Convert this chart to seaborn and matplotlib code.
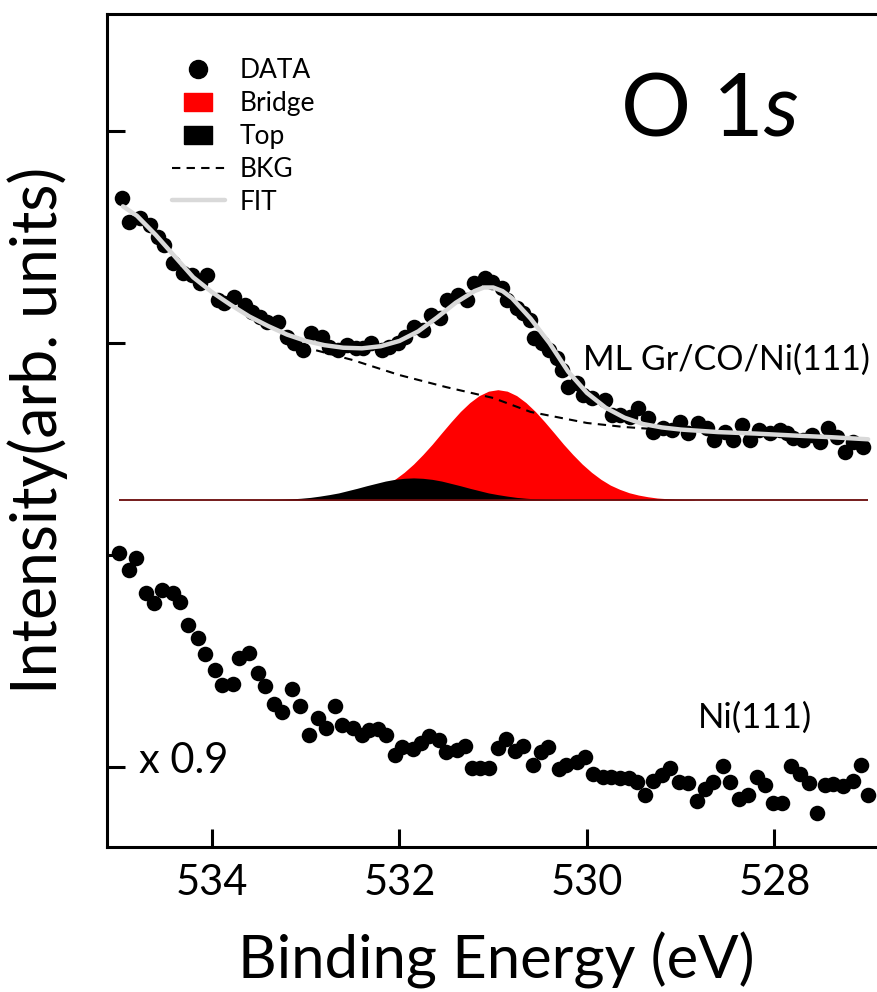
import numpy as np
import seaborn as sns
import matplotlib.pyplot as plt
from matplotlib.lines import Line2D
from matplotlib.path import Path

# %% data (binding energy in eV, intensity in arb. units)

gr_energy = [534.96, 534.88, 534.77, 534.66, 534.58, 534.51, 534.42, 534.31, 534.21, 534.13,
             534.05, 533.94, 533.87, 533.76, 533.65, 533.57, 533.49, 533.41, 533.30, 533.20,
             533.12, 533.03, 532.94, 532.83, 532.75, 532.66, 532.56, 532.46, 532.39, 532.30,
             532.19, 532.11, 532.02, 531.94, 531.84, 531.75, 531.66, 531.57, 531.49, 531.38,
             531.28, 531.20, 531.09, 531.01, 530.91, 530.85, 530.75, 530.68, 530.61, 530.56,
             530.48, 530.40, 530.32, 530.27, 530.20, 530.11, 530.04, 529.95, 529.81, 529.73,
             529.65, 529.54, 529.46, 529.35, 529.30, 529.19, 529.09, 529.01, 528.92, 528.82,
             528.72, 528.64, 528.53, 528.44, 528.35, 528.26, 528.16, 528.05, 527.94, 527.87,
             527.80, 527.70, 527.60, 527.51, 527.43, 527.33, 527.25, 527.16, 527.06]
gr_intensity = [2.683, 2.572, 2.590, 2.557, 2.500, 2.462, 2.377, 2.330, 2.321, 2.283,
                2.321, 2.203, 2.189, 2.217, 2.179, 2.146, 2.123, 2.099, 2.099, 2.028,
                2.000, 1.967, 2.047, 2.028, 1.981, 1.967, 1.991, 1.976, 1.976, 2.000,
                1.967, 1.981, 2.000, 2.028, 2.075, 2.061, 2.132, 2.118, 2.203, 2.226,
                2.203, 2.283, 2.307, 2.288, 2.259, 2.203, 2.165, 2.142, 2.108, 2.024,
                2.000, 1.967, 1.929, 1.873, 1.792, 1.811, 1.755, 1.741, 1.731, 1.660,
                1.660, 1.651, 1.693, 1.646, 1.580, 1.599, 1.590, 1.627, 1.575, 1.623,
                1.599, 1.542, 1.580, 1.542, 1.613, 1.542, 1.590, 1.575, 1.590, 1.575,
                1.552, 1.542, 1.566, 1.533, 1.599, 1.557, 1.486, 1.533, 1.509]

ni_energy = [534.99, 534.89, 534.81, 534.70, 534.62, 534.53, 534.42, 534.34, 534.26, 534.15, 534.07,
             533.97, 533.89, 533.78, 533.71, 533.61, 533.51, 533.43, 533.34, 533.25, 533.15, 533.06,
             532.97, 532.87, 532.78, 532.69, 532.61, 532.50, 532.40, 532.33, 532.23, 532.14, 532.05,
             531.97, 531.86, 531.77, 531.68, 531.58, 531.50, 531.39, 531.30, 531.23, 531.14, 531.05,
             530.95, 530.86, 530.77, 530.68, 530.58, 530.49, 530.41, 530.30, 530.22, 530.11, 530.02,
             529.93, 529.83, 529.74, 529.65, 529.55, 529.47, 529.38, 529.30, 529.20, 529.11, 529.02,
             528.92, 528.83, 528.74, 528.66, 528.55, 528.47, 528.38, 528.28, 528.19, 528.10, 528.02,
             527.92, 527.82, 527.73, 527.63, 527.55, 527.46, 527.37, 527.27, 527.16, 527.08, 527.00]
ni_intensity = [1.009, 0.929, 0.986, 0.821, 0.774, 0.835, 0.821, 0.778, 0.670, 0.608, 0.533,
                0.458, 0.387, 0.392, 0.514, 0.538, 0.443, 0.382, 0.297, 0.259, 0.368, 0.288,
                0.151, 0.231, 0.184, 0.288, 0.198, 0.184, 0.151, 0.175, 0.179, 0.151, 0.057,
                0.094, 0.085, 0.113, 0.146, 0.127, 0.071, 0.080, 0.099, -0.005, -0.005, -0.005,
                0.090, 0.132, 0.075, 0.099, 0.009, 0.071, 0.094, -0.009, 0.009, 0.024, 0.047,
                -0.033, -0.047, -0.047, -0.052, -0.052, -0.071, -0.132, -0.066, -0.038, -0.005, -0.071,
                -0.075, -0.160, -0.104, -0.071, 0.005, -0.071, -0.151, -0.132, -0.047, -0.085, -0.170,
                -0.170, 0.005, -0.033, -0.075, -0.217, -0.085, -0.080, -0.090, -0.066, 0.009, -0.132]

fit_energy = [534.95, 534.8, 534.6, 534.4, 534.2, 534.0, 533.8, 533.6, 533.4, 533.2, 533.0,
              532.8, 532.6, 532.4, 532.2, 532.0, 531.8, 531.6, 531.4, 531.2, 531.1, 531.0,
              530.9, 530.8, 530.6, 530.4, 530.2, 530.0, 529.8, 529.6, 529.4, 529.2, 529.0,
              528.6, 528.2, 527.8, 527.4, 527.0]
fit_intensity = [2.645, 2.60, 2.51, 2.41, 2.31, 2.24, 2.18, 2.125, 2.08, 2.04, 2.01,
                 1.99, 1.978, 1.975, 1.985, 2.01, 2.055, 2.12, 2.19, 2.245, 2.262, 2.262,
                 2.245, 2.212, 2.115, 2.000, 1.865, 1.765, 1.695, 1.648, 1.618, 1.602, 1.592,
                 1.580, 1.573, 1.564, 1.556, 1.546]

bkg_energy = [532.9, 532.5, 532.0, 531.5, 531.0, 530.6, 530.0, 529.6, 529.0, 528.3, 527.5, 527.0]
bkg_intensity = [1.967, 1.920, 1.849, 1.792, 1.741, 1.675, 1.623, 1.604, 1.585, 1.571, 1.557, 1.547]

comp_energy = [533.85, 533.75, 533.65, 533.55, 533.45, 533.35, 533.25, 533.15, 533.05, 532.95,
               532.85, 532.75, 532.65, 532.55, 532.45, 532.35, 532.25, 532.15, 532.05, 531.95,
               531.85, 531.75, 531.65, 531.55, 531.45, 531.35, 531.25, 531.15, 531.05, 530.95,
               530.85, 530.75, 530.65, 530.55, 530.45, 530.35, 530.25, 530.15, 530.05, 529.95,
               529.85, 529.75, 529.65, 529.55, 529.45, 529.35, 529.25, 529.15, 529.05, 528.95,
               528.85]
bridge = [0.000, 0.000, 0.000, 0.000, 0.000, 0.000, 0.000, 0.001, 0.001, 0.002,
          0.003, 0.006, 0.009, 0.015, 0.023, 0.034, 0.050, 0.070, 0.097, 0.130,
          0.169, 0.214, 0.263, 0.316, 0.368, 0.417, 0.459, 0.492, 0.513, 0.520,
          0.513, 0.492, 0.459, 0.417, 0.368, 0.316, 0.263, 0.214, 0.169, 0.130,
          0.097, 0.070, 0.050, 0.034, 0.023, 0.015, 0.009, 0.006, 0.003, 0.002,
          0.001]
top = [0.000, 0.000, 0.000, 0.001, 0.001, 0.002, 0.003, 0.005, 0.008, 0.012,
       0.018, 0.025, 0.033, 0.044, 0.055, 0.067, 0.078, 0.089, 0.097, 0.102,
       0.104, 0.102, 0.097, 0.089, 0.078, 0.067, 0.055, 0.044, 0.033, 0.025,
       0.018, 0.012, 0.008, 0.005, 0.003, 0.002, 0.001, 0.001, 0.000, 0.000,
       0.000, 0.000, 0.000, 0.000, 0.000, 0.000, 0.000, 0.000, 0.000, 0.000,
       0.000]
comp_offset = 1.26

x_ticks = [534, 532, 530, 528]
y_ticks = [0, 1, 2, 3]

# %% style

sns.set_style("ticks")
plt.rcParams['font.family'] = ['Lato', 'DejaVu Sans']
plt.rcParams['mathtext.fontset'] = 'custom'
plt.rcParams['mathtext.rm'] = 'Lato'
plt.rcParams['mathtext.it'] = 'Lato:italic'
for key in ['text.color', 'axes.labelcolor', 'xtick.color', 'ytick.color', 'axes.edgecolor']:
    plt.rcParams[key] = 'black'

fig = plt.figure(figsize=(8.78, 9.92), dpi=100)
ax = fig.add_axes([107/878, 145/992, 778/878, 833/992])

# %% components

base = np.full(len(comp_energy), comp_offset)
ax.fill_between(comp_energy, base, base + np.array(bridge), color="#ff0000", lw=0, zorder=1)
ax.fill_between(comp_energy, base, base + np.array(top), color="black", lw=0, zorder=1.1)
ax.hlines(comp_offset, min(ni_energy), max(ni_energy), color="#6a0a0a", lw=1.3, zorder=1.2)

sns.lineplot(x=bkg_energy, y=bkg_intensity, color="black", lw=1.5,
             linestyle=(0, (4, 3)), ax=ax, zorder=2)

sns.scatterplot(x=gr_energy, y=gr_intensity, color="black", s=125, linewidth=0, ax=ax, zorder=3)
sns.scatterplot(x=ni_energy, y=ni_intensity, color="black", s=125, linewidth=0, ax=ax, zorder=3)

sns.lineplot(x=fit_energy, y=fit_intensity, color="#d9d9d9", lw=3.2, ax=ax, zorder=4)

# %% axes

ax.set_xlim(535.12, 526.82)
ax.set_ylim(-0.377, 3.552)
ax.set_xticks(x_ticks)
ax.set_xticklabels([str(t) for t in x_ticks])
ax.set_yticks(y_ticks)
ax.set_yticklabels([])
ax.tick_params(direction='in', length=13, width=2.2, labelsize=30, pad=12,
               top=False, right=False)
for side in ['left', 'bottom', 'top']:
    ax.spines[side].set_linewidth(2.2)
ax.spines['right'].set_visible(False)

ax.set_xlabel("Binding Energy (eV)", fontsize=43, labelpad=22)
ax.set_ylabel("Intensity(arb. units)", fontsize=45, labelpad=16)

# %% labels

fig.text(620/878, 1 - 135/992, r"O 1$\mathit{s}$", fontsize=63, ha='left', va='baseline')
fig.text(583/878, 1 - 370/992, "ML Gr/CO/Ni(111)", fontsize=24.5, ha='left', va='baseline')
fig.text(698/878, 1 - 728/992, "Ni(111)", fontsize=25, ha='left', va='baseline')
fig.text(139/878, 1 - 773/992, "x 0.9", fontsize=30, ha='left', va='baseline')

# %% legend

rect = Path([(-1.5, -1), (1.5, -1), (1.5, 1), (-1.5, 1), (-1.5, -1)])
handles = [
    Line2D([], [], ls='none', marker='o', markersize=13, color='black'),
    Line2D([], [], ls='none', marker=rect, markersize=19.5, color='#ff0000'),
    Line2D([], [], ls='none', marker=rect, markersize=19.5, color='black'),
    Line2D([], [], color='black', lw=1.5, linestyle=(0, (4, 3))),
    Line2D([], [], color='#d9d9d9', lw=3.2),
]
labels = ["DATA", "Bridge", "Top", "BKG", "FIT"]
fig.legend(handles, labels, loc='upper left', bbox_to_anchor=(172/878, 1 - 58/992),
           frameon=False, fontsize=19, handlelength=2.0, handletextpad=0.55,
           labelspacing=0.3, borderpad=0, borderaxespad=0)

fig.savefig("out.png", dpi=100)
